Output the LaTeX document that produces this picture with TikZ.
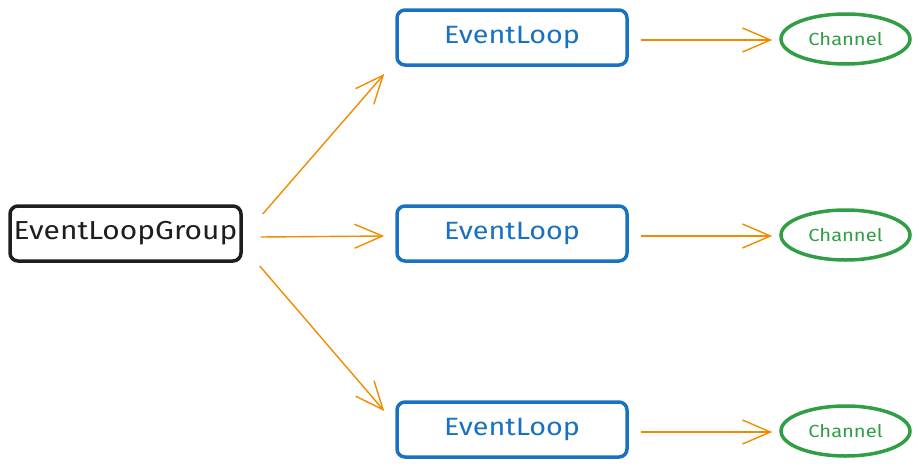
\documentclass[tikz,border=0pt]{standalone}
\usepackage{fontspec}
\setmainfont{Fira Sans}[FakeStretch=1.15]
\usetikzlibrary{arrows.meta,shapes.geometric}
\definecolor{exblack}{HTML}{1E1E1E}
\definecolor{exblue}{HTML}{1971C2}
\definecolor{exgreen}{HTML}{2F9E44}
\definecolor{exorange}{HTML}{F08C00}
\tikzset{
  groupbox/.style={draw=exblack, line width=3.5pt, rounded corners=8pt, minimum width=231pt, minimum height=55pt, text=exblack, font=\fontsize{26}{30}\selectfont, inner sep=0pt},
  loopbox/.style={draw=exblue, line width=3.5pt, rounded corners=8pt, minimum width=230pt, minimum height=55pt, text=exblue, font=\fontsize{25}{29}\selectfont, inner sep=0pt},
  chan/.style={draw=exgreen, ellipse, line width=3.5pt, minimum width=129pt, minimum height=50pt, text=exgreen, font=\fontsize{17.5}{20}\selectfont, inner sep=0pt},
  conn/.style={draw=exorange, line width=1.4pt, -{Straight Barb[length=28pt,width=24pt,line width=1.4pt]}}
}
\begin{document}
\begin{tikzpicture}[x=1pt,y=-1pt]
\useasboundingbox (0,0) rectangle (919,466);
\node[groupbox] (g) at (125.5,233.5) {EventLoopGroup};
\node[loopbox] (e1) at (512,37.5) {EventLoop};
\node[loopbox] (e2) at (512,233.5) {EventLoop};
\node[loopbox] (e3) at (512,429.5) {EventLoop};
\node[chan] (c1) at (845.5,39) {Channel};
\node[chan] (c2) at (845.5,235) {Channel};
\node[chan] (c3) at (845.5,431) {Channel};
\coordinate (a1s) at ([xshift=20pt,yshift=19.5pt]g.east);
\coordinate (a1e) at ([xshift=-11pt,yshift=-36.5pt]e1.west);
\coordinate (a2s) at ([xshift=18pt,yshift=-3.5pt]g.east);
\coordinate (a2e) at ([xshift=-11pt,yshift=-2.5pt]e2.west);
\coordinate (a3s) at ([xshift=17pt,yshift=-32.5pt]g.east);
\coordinate (a3e) at ([xshift=-11pt,yshift=18.5pt]e3.west);
\coordinate (b1s) at ([xshift=12pt,yshift=-2.5pt]e1.east);
\coordinate (b1e) at ([xshift=-7pt,yshift=-1pt]c1.west);
\coordinate (b2s) at ([xshift=12pt,yshift=-2.5pt]e2.east);
\coordinate (b2e) at ([xshift=-7pt,yshift=-1pt]c2.west);
\coordinate (b3s) at ([xshift=12pt,yshift=-2.5pt]e3.east);
\coordinate (b3e) at ([xshift=-7pt,yshift=-1pt]c3.west);
\draw[conn] (a1s) -- (a1e);
\draw[conn] (a2s) -- (a2e);
\draw[conn] (a3s) -- (a3e);
\draw[conn] (b1s) -- (b1e);
\draw[conn] (b2s) -- (b2e);
\draw[conn] (b3s) -- (b3e);
\end{tikzpicture}
\end{document}
